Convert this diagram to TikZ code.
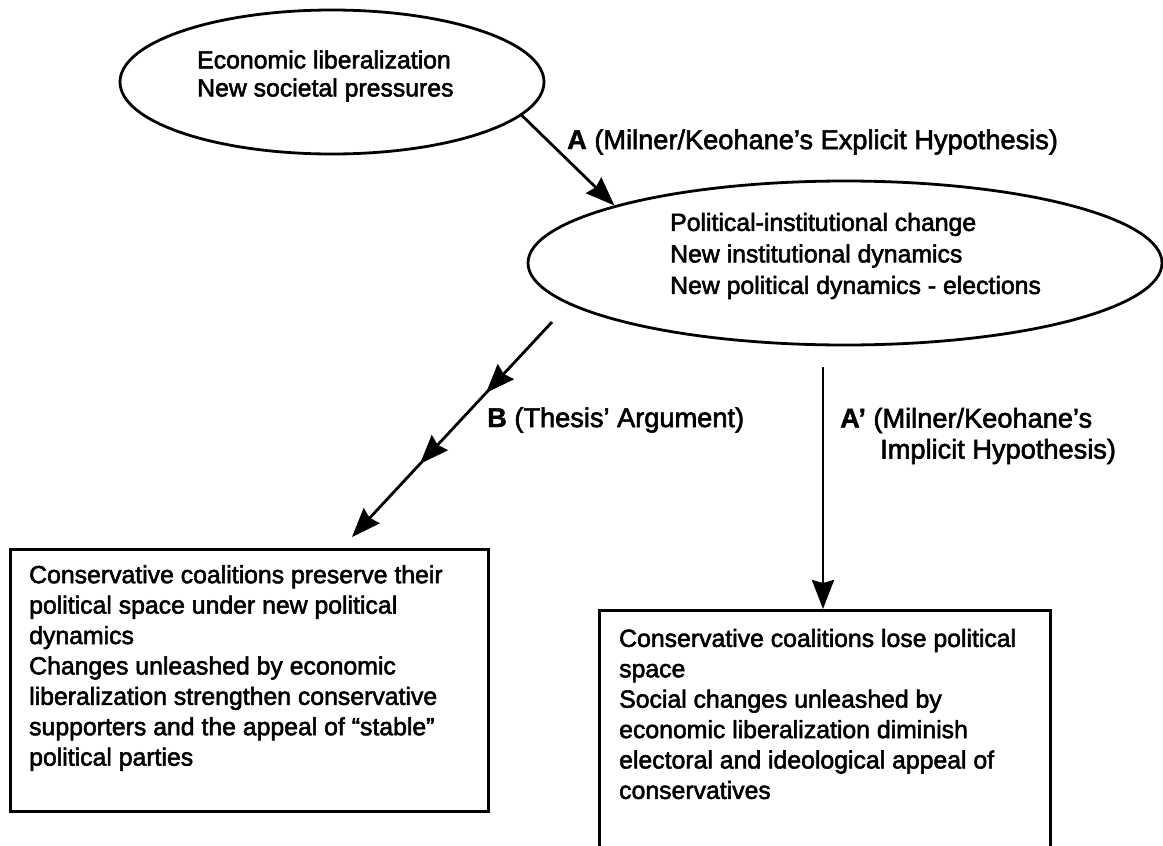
\documentclass[tikz,border=0pt]{standalone}
\usepackage{fontspec}
\setmainfont{Liberation Sans}[UprightFeatures={FakeBold=2.2},BoldFeatures={FakeBold=1.5}]
\usetikzlibrary{arrows.meta,shapes.geometric,decorations.markings}
\begin{document}
\begin{tikzpicture}[x=1pt,y=-1pt,
  lw/.style={line width=2.8pt},
  oval/.style={ellipse,draw,lw,inner sep=0pt},
  panel/.style={rectangle,draw,lw,inner sep=0pt,anchor=north west},
  body/.style={align=left,inner sep=0pt,anchor=west,font=\fontsize{24.8pt}{30.4pt}\selectfont},
  lbl/.style={align=left,inner sep=0pt,anchor=west,font=\fontsize{27.2pt}{31pt}\selectfont},
  tipstyle/.style={-{Stealth[length=29pt,width=22pt,inset=3pt]}},
  midtips/.style={postaction={decorate},decoration={markings,
     mark=at position 0.33 with {\arrow{Stealth[length=29pt,width=22pt,inset=3pt]}},
     mark=at position 0.66 with {\arrow{Stealth[length=29pt,width=22pt,inset=3pt]}}}}
]
\path[use as bounding box,clip] (0,0) rectangle (1163,846);
\fill[white] (0,0) rectangle (1163,846);

% ellipses
\node[oval,minimum width=424pt,minimum height=144pt] (e1) at (332,82) {};
\node[body,font=\fontsize{24.8pt}{28pt}\selectfont] (e1t) at (197,76) {Economic liberalization\\New societal pressures};

\node[oval,minimum width=634pt,minimum height=164pt] (e2) at (845,263) {};
\node[body,font=\fontsize{24.8pt}{31.5pt}\selectfont] (e2t) at (670,256) {Political-institutional change\\New institutional dynamics\\New political dynamics - elections};

% boxes
\node[panel,minimum width=478pt,minimum height=262pt] (lb) at (9,548) {};
\node[body] (lbt) at (29,668) {Conservative coalitions preserve their\\political space under new political\\dynamics\\Changes unleashed by economic\\liberalization strengthen conservative\\supporters and the appeal of “stable”\\political parties};

\node[panel,minimum width=451pt,minimum height=300pt] (rb) at (598,609) {};
\node[body] (rbt) at (619,714) {Conservative coalitions lose political\\space\\Social changes unleashed by\\economic liberalization diminish\\electoral and ideological appeal of\\conservatives};

% free ends
\coordinate (Bs) at (552,322);
\coordinate (Be) at (352,537);
\coordinate (Ps) at (823,367);

% connectors
\draw[lw,tipstyle] (e1.-10) -- (e2.166);
\draw[lw,tipstyle,midtips] (Bs) -- (Be);
\draw[lw,tipstyle] (Ps) -- (Ps |- rb.north);

% labels
\node[lbl] (la) at (567,142) {\textbf{A} (Milner/Keohane's Explicit Hypothesis)};
\node[lbl] (lbB) at (487,420) {\textbf{B} (Thesis' Argument)};
\node[lbl] (lap) at (840,436) {\textbf{A'} (Milner/Keohane's\\\hspace*{40pt}Implicit Hypothesis)};
\end{tikzpicture}
\end{document}
